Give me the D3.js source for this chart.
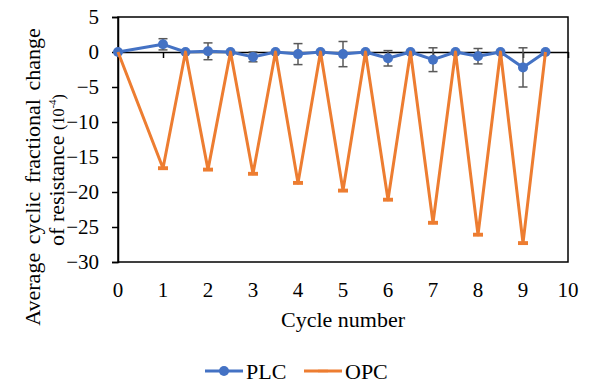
<!DOCTYPE html>
<html>
<head>
<meta charset="utf-8">
<script src="https://cdn.jsdelivr.net/npm/d3@7"></script>
<style>
  body { margin: 0; background: #fff; }
  svg text { font-family: "Liberation Serif", "Times New Roman", serif; fill: #000; }
</style>
</head>
<body>
<svg width="590" height="388"></svg>
<script>
// data
var cycles = [0, 1, 1.5, 2, 2.5, 3, 3.5, 4, 4.5, 5, 5.5, 6, 6.5, 7, 7.5, 8, 8.5, 9, 9.5];
var plc    = [0, 1.1, 0, 0.1, 0, -0.7, 0, -0.3, 0, -0.3, 0, -0.9, 0, -1.1, 0, -0.6, 0, -2.2, 0];
var plcErr = [0, 0.8, 0, 1.2, 0, 0.7, 0, 1.5, 0, 1.8, 0, 1.1, 0, 1.7, 0, 1.1, 0, 2.8, 0];
var opc    = [0, -16.6, 0, -16.8, 0, -17.4, 0, -18.7, 0, -19.8, 0, -21.1, 0, -24.4, 0, -26.1, 0, -27.3, 0];
var opcErr = [0, 0.1, 0, 0.1, 0, 0.1, 0, 0.1, 0, 0.1, 0, 0.1, 0, 0.1, 0, 0.1, 0, 0.1, 0];
var xTicks = [0, 1, 2, 3, 4, 5, 6, 7, 8, 9, 10];
var yTicks = [5, 0, -5, -10, -15, -20, -25, -30];
var seriesNames = ['PLC', 'OPC'];

var blue = '#4472C4', orange = '#ED7D31', grey = '#595959';
var serif = '"Liberation Serif", "Times New Roman", serif';
var plotL = 118, plotR = 568, plotT = 17, plotB = 262;

var svg = d3.select('svg');
var x = d3.scaleLinear().domain([0, 10]).range([plotL, plotR]);
var y = d3.scaleLinear().domain([-30, 5]).range([plotB, plotT]);

/* ----- plot frame ----- */
svg.append('rect')
    .attr('x', plotL).attr('y', plotT)
    .attr('width', plotR - plotL).attr('height', plotB - plotT)
    .attr('fill', 'none').attr('stroke', '#000').attr('stroke-width', 1.5);

/* ----- y axis ----- */
var yAxis = svg.append('g')
    .attr('transform', 'translate(' + plotL + ',0)')
    .call(d3.axisLeft(y).tickValues(yTicks).tickSize(6).tickPadding(13).tickFormat(d3.format('d')))
    .attr('font-family', serif).attr('font-size', 21);
yAxis.select('.domain').attr('stroke-width', 1.5);
yAxis.selectAll('.tick line').attr('stroke-width', 1.5);

/* ----- x axis line at zero, labels at bottom ----- */
var xAxis = svg.append('g')
    .attr('transform', 'translate(0,' + y(0) + ')')
    .call(d3.axisBottom(x).tickValues(xTicks).tickSize(6).tickSizeOuter(0).tickFormat(''));
xAxis.select('.domain').attr('stroke-width', 1.5);
xAxis.selectAll('.tick line').attr('stroke-width', 1.5);

svg.append('g').selectAll('text')
    .data(xTicks)
    .enter().append('text')
    .attr('x', function (d) { return x(d); })
    .attr('y', 297)
    .attr('text-anchor', 'middle')
    .style('font-size', '21px')
    .text(function (d) { return d; });

/* ----- titles ----- */
svg.append('text')
    .attr('x', 343).attr('y', 327)
    .attr('text-anchor', 'middle')
    .style('font-size', '22px')
    .text('Cycle number');

svg.append('text')
    .attr('transform', 'translate(40,177) rotate(-90)')
    .attr('text-anchor', 'middle')
    .style('font-size', '22px')
    .style('word-spacing', '3px')
    .text('Average cyclic fractional change');

var t2 = svg.append('text')
    .attr('transform', 'translate(64,170) rotate(-90)')
    .attr('text-anchor', 'middle')
    .style('font-size', '22px');
t2.append('tspan').text('of resistance ');
t2.append('tspan').style('font-size', '16px').text('(10');
t2.append('tspan').style('font-size', '11px').attr('dy', -8).text('-4');
t2.append('tspan').style('font-size', '16px').attr('dy', 8).text(')');

/* ----- series ----- */
var plcData = cycles.map(function (c, i) { return { x: c, y: plc[i], e: plcErr[i] }; });
var opcData = cycles.map(function (c, i) { return { x: c, y: opc[i], e: opcErr[i] }; });

var line = d3.line()
    .x(function (d) { return x(d.x); })
    .y(function (d) { return y(d.y); });

function errorBars(g, data, color, cap, width) {
    var eb = g.selectAll('g.err').data(data.filter(function (d) { return d.e > 0; }))
        .enter().append('g').attr('class', 'err')
        .attr('stroke', color).attr('stroke-width', width);
    eb.append('line')
        .attr('x1', function (d) { return x(d.x); }).attr('x2', function (d) { return x(d.x); })
        .attr('y1', function (d) { return y(d.y + d.e); }).attr('y2', function (d) { return y(d.y - d.e); });
    eb.append('line')
        .attr('x1', function (d) { return x(d.x) - cap; }).attr('x2', function (d) { return x(d.x) + cap; })
        .attr('y1', function (d) { return y(d.y + d.e); }).attr('y2', function (d) { return y(d.y + d.e); });
    eb.append('line')
        .attr('x1', function (d) { return x(d.x) - cap; }).attr('x2', function (d) { return x(d.x) + cap; })
        .attr('y1', function (d) { return y(d.y - d.e); }).attr('y2', function (d) { return y(d.y - d.e); });
}

var gPlc = svg.append('g');
errorBars(gPlc, plcData, grey, 4.5, 1.5);
gPlc.append('path').datum(plcData)
    .attr('d', line).attr('fill', 'none')
    .attr('stroke', blue).attr('stroke-width', 3).attr('stroke-linejoin', 'round');
gPlc.selectAll('circle').data(plcData)
    .enter().append('circle')
    .attr('cx', function (d) { return x(d.x); })
    .attr('cy', function (d) { return y(d.y); })
    .attr('r', 5).attr('fill', blue);

var gOpc = svg.append('g');
gOpc.append('path').datum(opcData)
    .attr('d', line).attr('fill', 'none')
    .attr('stroke', orange).attr('stroke-width', 3).attr('stroke-linejoin', 'round');
errorBars(gOpc, opcData, orange, 5, 2.5);

/* ----- legend ----- */
var legend = svg.append('g');
var lg = legend.selectAll('g').data(seriesNames)
    .enter().append('g')
    .attr('transform', function (d, i) { return 'translate(' + (205 + i * 99) + ',371)'; });
lg.append('line')
    .attr('x1', 0).attr('x2', 38)
    .attr('stroke', function (d, i) { return i === 0 ? blue : orange; })
    .attr('stroke-width', 3);
lg.filter(function (d, i) { return i === 0; }).append('circle')
    .attr('cx', 19).attr('r', 5).attr('fill', blue);
lg.filter(function (d, i) { return i === 1; }).append('line')
    .attr('x1', 14).attr('x2', 24).attr('stroke', orange).attr('stroke-width', 2.5);
lg.append('text')
    .attr('x', 41).attr('y', 8)
    .style('font-size', '22px')
    .text(function (d) { return d; });
</script>
</body>
</html>
